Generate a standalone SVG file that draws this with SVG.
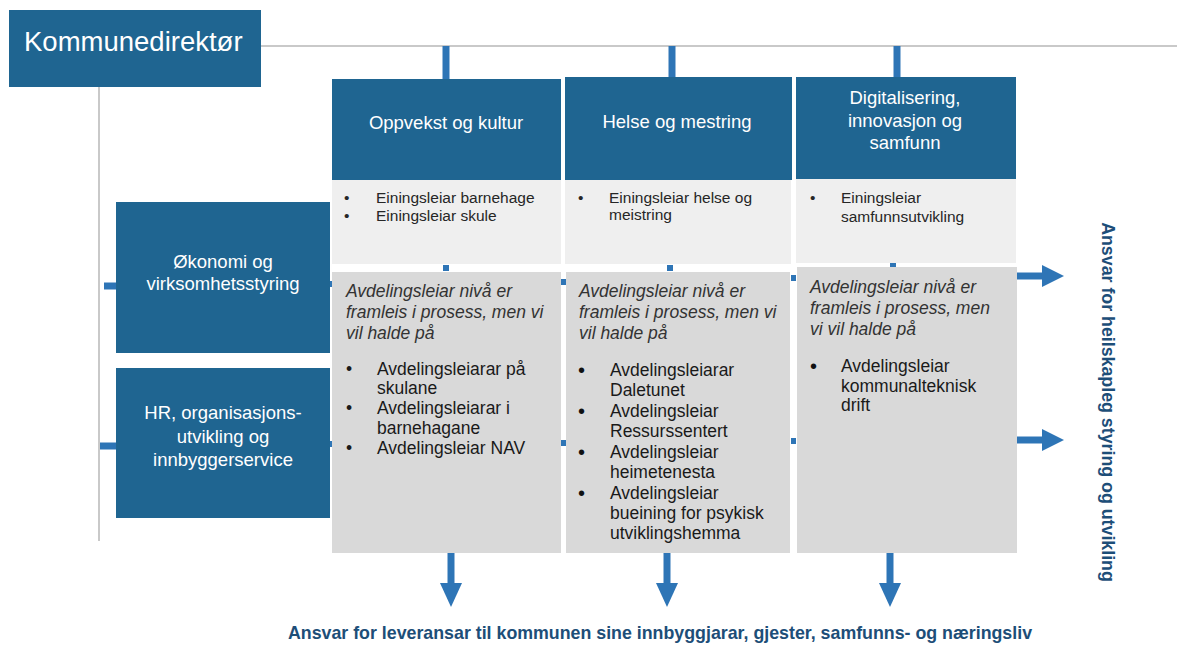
<svg xmlns="http://www.w3.org/2000/svg" width="1177" height="645" viewBox="0 0 1177 645">
  <defs>
    <style>
      .hdr { fill: #1f6591; }
      .unit { fill: #efefef; }
      .dept { fill: #d9d9d9; }
      .wt { font-family: "Liberation Sans", Arial, sans-serif; fill: #ffffff; text-anchor: middle; font-size: 18.5px; }
      .sm { font-family: "Liberation Sans", Arial, sans-serif; fill: #262626; font-size: 15.5px; }
      .it { font-family: "Liberation Sans", Arial, sans-serif; fill: #333333; font-size: 17.5px; font-style: italic; }
      .bl { font-family: "Liberation Sans", Arial, sans-serif; fill: #1a1a1a; font-size: 17.5px; }
      .cap { font-family: "Liberation Sans", Arial, sans-serif; fill: #1d4e78; font-size: 17.8px; font-weight: bold; }
      .grey { stroke: #c9c9c9; stroke-width: 2; fill: none; }
      .shaft { stroke: #2e75b6; stroke-width: 7; fill: none; }
      .head { fill: #2e75b6; }
      .dot { fill: #2e75b6; }
    </style>
  </defs>

  <rect width="1177" height="645" fill="#ffffff"/>

  <!-- connectors -->
  <g id="connectors">
    <!-- grey hierarchy lines from the top box -->
    <line class="grey" x1="261" y1="46" x2="1177" y2="46"/>
    <line class="grey" x1="99" y1="87" x2="99" y2="541"/>
    <!-- drops from the top line to the sector heads -->
    <line class="shaft" x1="446" y1="46" x2="446" y2="79"/>
    <line class="shaft" x1="672" y1="46" x2="672" y2="78"/>
    <line class="shaft" x1="897" y1="46" x2="897" y2="78"/>
    <!-- stubs into the staff boxes -->
    <line class="shaft" x1="104" y1="286" x2="117" y2="286" stroke-width="5"/>
    <line class="shaft" x1="100" y1="446" x2="117" y2="446" stroke-width="5"/>
    <!-- connector end points -->
    <rect class="dot" x="443" y="265" width="6" height="6"/>
    <rect class="dot" x="667" y="265" width="6" height="6"/>
    <rect class="dot" x="890" y="263" width="6" height="4"/>
    <rect class="dot" x="892" y="177" width="6" height="4"/>
    <rect class="dot" x="328" y="281" width="5" height="6"/>
    <rect class="dot" x="328" y="441" width="5" height="6"/>
    <rect class="dot" x="561" y="279" width="5" height="6"/>
    <rect class="dot" x="561" y="440" width="5" height="6"/>
    <rect class="dot" x="791" y="275" width="5" height="6"/>
    <rect class="dot" x="791" y="438" width="5" height="6"/>
    <!-- arrows to the right -->
    <line class="shaft" x1="1017" y1="276" x2="1044" y2="276"/>
    <polygon class="head" points="1042,265 1064,276 1042,287"/>
    <line class="shaft" x1="1017" y1="440" x2="1044" y2="440"/>
    <polygon class="head" points="1042,429 1064,440 1042,451"/>
    <!-- arrows downward -->
    <line class="shaft" x1="451" y1="553" x2="451" y2="585"/>
    <polygon class="head" points="440,583 462,583 451,607"/>
    <line class="shaft" x1="667" y1="553" x2="667" y2="585"/>
    <polygon class="head" points="656,583 678,583 667,607"/>
    <line class="shaft" x1="890" y1="553" x2="890" y2="585"/>
    <polygon class="head" points="879,583 901,583 890,607"/>
  </g>

  <!-- top leader -->
  <g id="kommunedirektor">
    <rect class="hdr" x="9" y="10" width="252" height="77"/>
    <text x="24" y="51" font-family="Liberation Sans, Arial, sans-serif" font-size="27.5" fill="#ffffff">Kommunedirektør</text>
  </g>

  <!-- staff functions -->
  <g id="okonomi">
    <rect class="hdr" x="116" y="202" width="214" height="151"/>
    <text class="wt" x="223" y="268" font-size="18">Økonomi og</text>
    <text class="wt" x="223" y="290" font-size="18">virksomhetsstyring</text>
  </g>
  <g id="hr">
    <rect class="hdr" x="116" y="368" width="214" height="150"/>
    <text class="wt" x="223" y="419" font-size="18">HR, organisasjons-</text>
    <text class="wt" x="223" y="443" font-size="18">utvikling og</text>
    <text class="wt" x="223" y="466" font-size="18">innbyggerservice</text>
  </g>

  <!-- sector: Oppvekst og kultur -->
  <g id="oppvekst">
    <rect class="hdr" x="332" y="79" width="229" height="101"/>
    <text class="wt" x="446" y="129">Oppvekst og kultur</text>
  </g>
  <g id="oppvekst-einingar">
    <rect class="unit" x="332" y="180" width="229" height="84"/>
    <text class="sm" x="344" y="203">•</text>
    <text class="sm" x="376" y="203">Einingsleiar barnehage</text>
    <text class="sm" x="344" y="221">•</text>
    <text class="sm" x="376" y="221">Einingsleiar skule</text>
  </g>
  <g id="oppvekst-avdelingar">
    <rect class="dept" x="332" y="272" width="229" height="281"/>
    <text class="it" x="346" y="297">Avdelingsleiar nivå er</text>
    <text class="it" x="346" y="318">framleis i prosess, men vi</text>
    <text class="it" x="346" y="339">vil halde på</text>
    <text class="bl" x="346" y="375">•</text>
    <text class="bl" x="377" y="375">Avdelingsleiarar på</text>
    <text class="bl" x="377" y="394">skulane</text>
    <text class="bl" x="346" y="414">•</text>
    <text class="bl" x="377" y="414">Avdelingsleiarar i</text>
    <text class="bl" x="377" y="434">barnehagane</text>
    <text class="bl" x="346" y="454">•</text>
    <text class="bl" x="377" y="454">Avdelingsleiar NAV</text>
  </g>

  <!-- sector: Helse og mestring -->
  <g id="helse">
    <rect class="hdr" x="565" y="77" width="227" height="103"/>
    <text class="wt" x="677" y="128">Helse og mestring</text>
  </g>
  <g id="helse-einingar">
    <rect class="unit" x="565" y="180" width="226" height="84"/>
    <text class="sm" x="578" y="203">•</text>
    <text class="sm" x="609" y="203">Einingsleiar helse og</text>
    <text class="sm" x="609" y="220">meistring</text>
  </g>
  <g id="helse-avdelingar">
    <rect class="dept" x="566" y="272" width="224" height="281"/>
    <text class="it" x="579" y="297">Avdelingsleiar nivå er</text>
    <text class="it" x="579" y="318">framleis i prosess, men vi</text>
    <text class="it" x="579" y="339">vil halde på</text>
    <g font-family="Liberation Sans, Arial, sans-serif" font-size="20" fill="#111">
      <text x="578" y="377">•</text>
      <text x="578" y="418">•</text>
      <text x="578" y="459">•</text>
      <text x="578" y="500">•</text>
    </g>
    <text class="bl" x="610" y="376">Avdelingsleiarar</text>
    <text class="bl" x="610" y="396">Daletunet</text>
    <text class="bl" x="610" y="417">Avdelingsleiar</text>
    <text class="bl" x="610" y="437">Ressurssentert</text>
    <text class="bl" x="610" y="458">Avdelingsleiar</text>
    <text class="bl" x="610" y="478">heimetenesta</text>
    <text class="bl" x="610" y="499">Avdelingsleiar</text>
    <text class="bl" x="610" y="519">bueining for psykisk</text>
    <text class="bl" x="610" y="539">utviklingshemma</text>
  </g>

  <!-- sector: Digitalisering, innovasjon og samfunn -->
  <g id="digitalisering">
    <rect class="hdr" x="796" y="77" width="220" height="102"/>
    <text class="wt" x="905" y="104">Digitalisering,</text>
    <text class="wt" x="905" y="127">innovasjon og</text>
    <text class="wt" x="905" y="149">samfunn</text>
  </g>
  <g id="digitalisering-einingar">
    <rect class="unit" x="796" y="179" width="220" height="84"/>
    <text class="sm" x="810" y="203">•</text>
    <text class="sm" x="841" y="203">Einingsleiar</text>
    <text class="sm" x="841" y="222">samfunnsutvikling</text>
  </g>
  <g id="digitalisering-avdelingar">
    <rect class="dept" x="797" y="267" width="220" height="286"/>
    <text class="it" x="810" y="293">Avdelingsleiar nivå er</text>
    <text class="it" x="810" y="314">framleis i prosess, men</text>
    <text class="it" x="810" y="335">vi vil halde på</text>
    <text x="810" y="373" font-family="Liberation Sans, Arial, sans-serif" font-size="20" fill="#111">•</text>
    <text class="bl" x="841" y="372">Avdelingsleiar</text>
    <text class="bl" x="841" y="392">kommunalteknisk</text>
    <text class="bl" x="841" y="411">drift</text>
  </g>

  <!-- responsibility captions -->
  <g id="caption-right">
    <text class="cap" transform="translate(1102,402) rotate(90)" text-anchor="middle">Ansvar for heilskapleg styring og utvikling</text>
  </g>
  <g id="caption-bottom">
    <text class="cap" x="660" y="639" text-anchor="middle">Ansvar for leveransar til kommunen sine innbyggjarar, gjester, samfunns- og næringsliv</text>
  </g>
</svg>
